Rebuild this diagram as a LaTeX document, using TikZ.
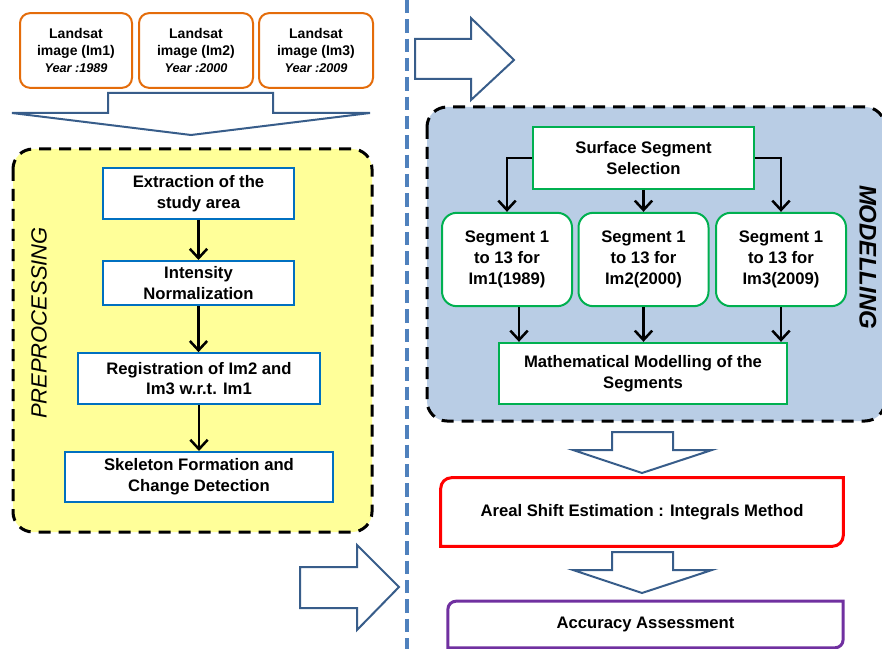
\documentclass[tikz,border=0pt]{standalone}
\usepackage{fontspec}
\setmainfont{Liberation Sans}
\usepackage{xcolor}
\usepackage{tikz}
\usetikzlibrary{arrows.meta}
\definecolor{landcolor}{HTML}{E46C0A}
\definecolor{shapecolor}{HTML}{385D8A}
\definecolor{sepcolor}{HTML}{4F81BD}
\definecolor{precolor}{HTML}{0070C0}
\definecolor{prefill}{HTML}{FFFF99}
\definecolor{modfill}{HTML}{B9CDE5}
\definecolor{modcolor}{HTML}{00B050}
\definecolor{arealcolor}{HTML}{FF0000}
\definecolor{accurcolor}{HTML}{7030A0}
\tikzset{
  boxfont/.style={font=\bfseries\fontsize{12.5pt}{15.5pt}\selectfont, align=center},
  landbox/.style={draw=landcolor, line width=1.5pt, rounded corners=7.5pt, fill=white, minimum width=84pt, minimum height=56pt, align=center, font=\bfseries\fontsize{10.5pt}{13pt}\selectfont},
  prebox/.style={boxfont, draw=precolor, line width=1.5pt, fill=white, inner ysep=1pt, minimum height=38pt},
  modbox/.style={boxfont, draw=modcolor, line width=1.5pt, fill=white},
  segbox/.style={modbox, rounded corners=11pt, minimum width=97.5pt, minimum height=70pt},
  blockarrow/.style={draw=shapecolor, line width=1.5pt, fill=white, line join=miter},
  stagebox/.style={draw=black, line width=2.25pt, dash pattern=on 9pt off 6pt, rounded corners=15pt},
  flow/.style={draw=black, line width=1.9pt, -{Straight Barb[length=7pt,width=13pt]}}
}

\begin{document}
\begin{tikzpicture}[x=0.75pt, y=-0.75pt]%
\useasboundingbox (0, 0) rectangle (882, 649);%
\clip (0, 0) rectangle (882, 649);%
\draw[sepcolor, line width=3pt, dash pattern=on 10pt off 4.5pt] (407, 0) -- (407, 649);%
\draw[stagebox, fill=prefill] (13, 149) rectangle (372, 532);%
\draw[stagebox, fill=modfill] (427, 107) rectangle (885, 421);%
\node[landbox] (im1) at (76, 50.5) {Landsat\\image (Im1)\\{\itshape\fontsize{9.5pt}{13pt}\selectfont Year :1989}};%
\node[landbox, minimum width=85.5pt] (im2) at (196, 50.5) {Landsat\\image (Im2)\\{\itshape\fontsize{9.5pt}{13pt}\selectfont Year :2000}};%
\node[landbox, minimum width=85.5pt] (im3) at (316, 50.5) {Landsat\\image (Im3)\\{\itshape\fontsize{9.5pt}{13pt}\selectfont Year :2009}};%
\draw[blockarrow] (108, 93) -- (273, 93) -- (273, 113) -- (370, 113) -- (191, 135) -- (12, 113) -- (108, 113) -- cycle;%
\draw[blockarrow] (415, 39) -- (471, 39) -- (471, 18) -- (514, 60) -- (471, 100) -- (471, 79) -- (415, 79) -- cycle;%
\draw[blockarrow] (300, 567) -- (357, 567) -- (357, 545) -- (399, 587) -- (357, 630) -- (357, 608) -- (300, 608) -- cycle;%
\draw[blockarrow] (612, 432) -- (673, 432) -- (673, 450) -- (712, 450) -- (642, 473) -- (573, 450) -- (612, 450) -- cycle;%
\draw[blockarrow] (612, 552) -- (673, 552) -- (673, 570) -- (712, 570) -- (642, 593) -- (573, 570) -- (612, 570) -- cycle;%
\node[prebox, minimum width=143pt] (extract) at (198.5, 193.5) {Extraction of the\\study area};%
\node[prebox, minimum width=143pt, minimum height=33pt] (intens) at (198.5, 283) {Intensity\\Normalization};%
\node[prebox, minimum width=181.5pt] (regist) at (199, 378.5) {Registration of Im2 and\\Im3 w.r.t. Im1};%
\node[prebox, minimum width=201pt, minimum height=37.5pt] (skel) at (199, 477) {Skeleton Formation and\\Change Detection};%
\draw[flow] (extract) -- (intens);%
\draw[flow] (intens.south) -- (intens.south |- regist.north);%
\draw[flow] (regist) -- (skel);%
\node[rotate=90, font=\itshape\fontsize{16.5pt}{16.5pt}\selectfont] (prelabel) at (39, 323) {PREPROCESSING};%
\node[modbox, minimum width=166pt, minimum height=46.5pt] (select) at (643.5, 158) {Surface Segment\\Selection};%
\node[segbox] (seg1) at (507, 259.5) {Segment 1\\to 13 for\\Im1(1989)};%
\node[segbox] (seg2) at (643.5, 259.5) {Segment 1\\to 13 for\\Im2(2000)};%
\node[segbox] (seg3) at (781, 259.5) {Segment 1\\to 13 for\\Im3(2009)};%
\node[modbox, minimum width=216pt, minimum height=46pt] (mathmod) at (643, 373.5) {Mathematical Modelling of the\\Segments};%
\draw[flow] (select.west) -| (seg1.north);%
\draw[flow] (select) -- (seg2);%
\draw[flow] (select.east) -| (seg3.north);%
\draw[flow] ([xshift=9pt]seg1.south) -- ([xshift=9pt]seg1.south |- mathmod.north);%
\draw[flow] (seg2) -- (seg2 |- mathmod.north);%
\draw[flow] (seg3) -- (seg3 |- mathmod.north);%
\node[rotate=-90, font=\bfseries\itshape\fontsize{18pt}{18pt}\selectfont] (modlabel) at (868, 257) {MODELLING};%
\node[boxfont, minimum width=301.5pt, minimum height=51pt] (areal) at (642, 512) {Areal Shift Estimation : Integrals Method};%
\draw[arealcolor, line width=2.25pt] (areal.south west) -- ([yshift=-8pt]areal.north west) arc[start angle=180, end angle=90, radius=8pt] -- (areal.north east) -- ([yshift=8pt]areal.south east) arc[start angle=0, end angle=-90, radius=8pt] -- cycle;%
\node[boxfont, minimum width=296pt, minimum height=34.5pt] (accur) at (645.5, 624.5) {Accuracy Assessment};%
\draw[accurcolor, line width=2.25pt] (accur.south west) -- ([yshift=-6pt]accur.north west) arc[start angle=180, end angle=90, radius=6pt] -- (accur.north east) -- ([yshift=6pt]accur.south east) arc[start angle=0, end angle=-90, radius=6pt] -- cycle;%
\end{tikzpicture}
\end{document}
